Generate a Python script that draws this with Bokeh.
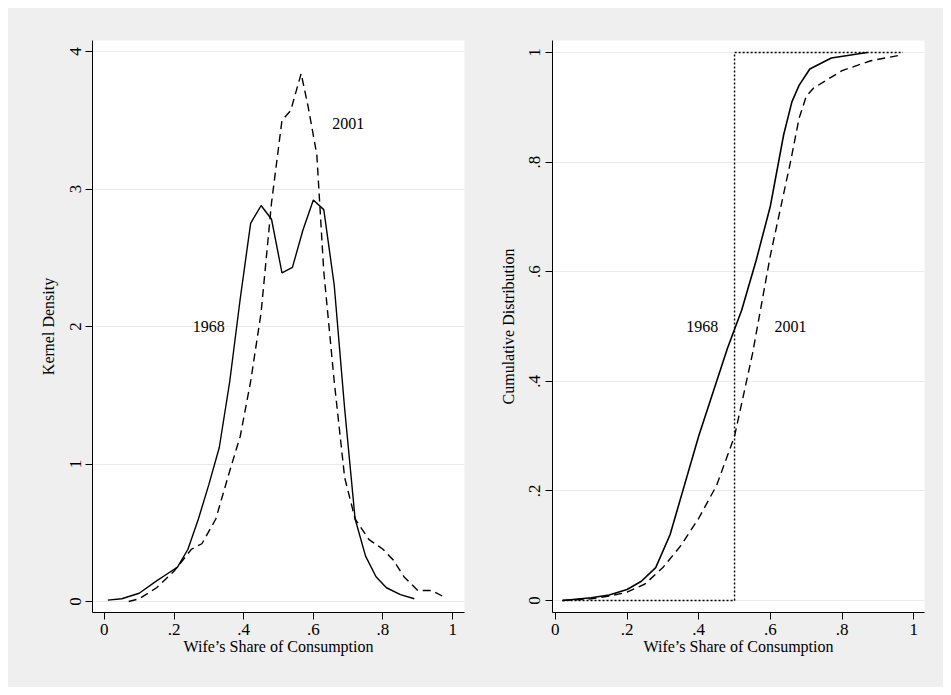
from bokeh.plotting import figure
from bokeh.layouts import row
from bokeh.models import Range1d, FixedTicker
from bokeh.core.properties import value
from bokeh.embed import file_html
from bokeh.resources import INLINE

# Kernel density, 1968 (solid) and 2001 (dashed)
kd68_x = [0.01, 0.05, 0.10, 0.15, 0.18, 0.21, 0.24, 0.27, 0.30, 0.33, 0.36, 0.39, 0.42,
          0.45, 0.48, 0.51, 0.54, 0.57, 0.60, 0.63, 0.66, 0.69, 0.72, 0.75, 0.78,
          0.81, 0.85, 0.89]
kd68_y = [0.01, 0.02, 0.06, 0.15, 0.20, 0.25, 0.38, 0.60, 0.85, 1.12, 1.60, 2.20, 2.75,
          2.88, 2.78, 2.39, 2.43, 2.70, 2.92, 2.85, 2.30, 1.40, 0.60, 0.33, 0.18,
          0.10, 0.05, 0.02]
kd01_x = [0.07, 0.10, 0.15, 0.20, 0.25, 0.28, 0.32, 0.36, 0.39, 0.42, 0.45, 0.48, 0.51,
          0.535, 0.565, 0.585, 0.61, 0.63, 0.66, 0.69, 0.72, 0.76, 0.80, 0.83, 0.86,
          0.90, 0.94, 0.97]
kd01_y = [0.00, 0.02, 0.10, 0.22, 0.38, 0.42, 0.60, 0.95, 1.20, 1.60, 2.10, 2.90, 3.50,
          3.57, 3.84, 3.60, 3.25, 2.40, 1.60, 0.90, 0.60, 0.45, 0.38, 0.30, 0.18,
          0.08, 0.08, 0.04]

# Cumulative distributions
cd68_x = [0.02, 0.10, 0.15, 0.20, 0.24, 0.28, 0.32, 0.36, 0.40, 0.44, 0.48, 0.52, 0.56,
          0.60, 0.637, 0.66, 0.68, 0.71, 0.77, 0.87]
cd68_y = [0.00, 0.005, 0.01, 0.02, 0.035, 0.06, 0.12, 0.21, 0.30, 0.38, 0.46, 0.53, 0.62,
          0.72, 0.85, 0.91, 0.94, 0.97, 0.99, 1.00]
cd01_x = [0.02, 0.10, 0.15, 0.20, 0.25, 0.30, 0.35, 0.40, 0.45, 0.50, 0.55, 0.60, 0.656,
          0.68, 0.70, 0.72, 0.80, 0.88, 0.96]
cd01_y = [0.00, 0.003, 0.008, 0.015, 0.03, 0.06, 0.10, 0.15, 0.21, 0.30, 0.45, 0.63, 0.80,
          0.88, 0.92, 0.935, 0.967, 0.985, 0.995]
step_x = [0.02, 0.50, 0.50, 0.97]
step_y = [0.00, 0.00, 1.00, 1.00]

FONT = "Liberation Serif"
BG = "#efefef"


def style(p, xlabel, ylabel, yticks, ylabels):
    p.border_fill_color = BG
    p.background_fill_color = "white"
    p.outline_line_color = None
    p.xgrid.grid_line_color = None
    p.ygrid.grid_line_color = "#ebebeb"
    p.ygrid.ticker = FixedTicker(ticks=yticks)
    p.xaxis.ticker = FixedTicker(ticks=[0, 0.2, 0.4, 0.6, 0.8, 1])
    p.xaxis.major_label_overrides = {0: "0", 0.2: ".2", 0.4: ".4", 0.6: ".6", 0.8: ".8", 1: "1"}
    p.yaxis.ticker = FixedTicker(ticks=yticks)
    p.yaxis.major_label_overrides = dict(zip(yticks, ylabels))
    p.yaxis.major_label_orientation = "vertical"
    for ax in (p.xaxis, p.yaxis):
        ax.axis_line_color = "black"
        ax.major_tick_line_color = "black"
        ax.major_tick_out = 7
        ax.major_tick_in = 0
        ax.minor_tick_line_color = None
        ax.major_label_text_font = FONT
        ax.major_label_text_font_size = "17px"
        ax.major_label_text_color = "black"
        ax.axis_label_text_font = FONT
        ax.axis_label_text_font_size = "16px"
        ax.axis_label_text_font_style = "normal"
        ax.axis_label_text_color = "black"
    p.xaxis.axis_label = xlabel
    p.yaxis.axis_label = ylabel
    p.xaxis.axis_label_standoff = 0
    p.xaxis.major_label_standoff = 4
    p.yaxis.axis_label_standoff = 10


left = figure(width=467, height=679, output_backend="svg", toolbar_location=None,
              x_range=Range1d(-0.034, 1.034), y_range=Range1d(-0.08, 4.08),
              min_border_left=84, min_border_right=11, min_border_top=32, min_border_bottom=75)
style(left, "Wife\u2019s Share of Consumption", "Kernel Density",
      [0, 1, 2, 3, 4], ["0", "1", "2", "3", "4"])
left.line(kd68_x, kd68_y, line_color="black", line_width=1.4)
left.line(kd01_x, kd01_y, line_color="black", line_width=1.4, line_dash="8 5")
left.text(x=[0.30, 0.70], y=[2.0, 3.48], text=["1968", "2001"], text_font=value(FONT),
          text_font_size="16px", text_align="center", text_baseline="middle")

right = figure(width=468, height=679, output_backend="svg", toolbar_location=None,
               x_range=Range1d(-0.008, 1.03), y_range=Range1d(-0.022, 1.022),
               min_border_left=77, min_border_right=19, min_border_top=32, min_border_bottom=75)
style(right, "Wife\u2019s Share of Consumption", "Cumulative Distribution",
      [0, 0.2, 0.4, 0.6, 0.8, 1], ["0", ".2", ".4", ".6", ".8", "1"])
right.line(step_x, step_y, line_color="black", line_width=1.4, line_dash="2 2")
right.line(cd68_x, cd68_y, line_color="black", line_width=1.6)
right.line(cd01_x, cd01_y, line_color="black", line_width=1.4, line_dash="8 5")
right.text(x=[0.41, 0.656], y=[0.5, 0.5], text=["1968", "2001"], text_font=value(FONT),
           text_font_size="16px", text_align="center", text_baseline="middle")

p = row(left, right, spacing=0,
        styles={"margin-left": "8px", "margin-top": "8px", "background-color": BG})
open("out.html", "w").write(file_html(p, INLINE))
